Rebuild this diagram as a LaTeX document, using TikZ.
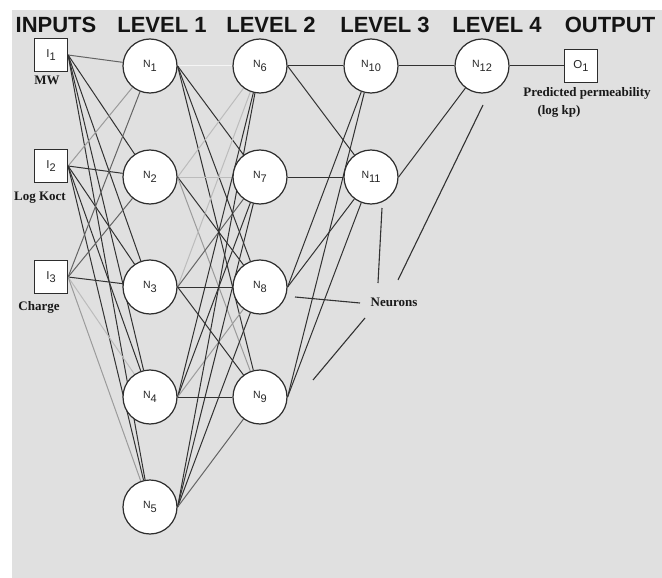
\documentclass[tikz,border=0pt]{standalone}
\usepackage{fontspec}
\setmainfont{Liberation Serif}
\setsansfont{Liberation Sans}
\pgfdeclarelayer{back}
\pgfdeclarelayer{wires}
\pgfsetlayers{back,wires,main}
\definecolor{bgGray}{RGB}{224,224,224}
\definecolor{wDark}{RGB}{50,50,50}
\definecolor{wMid}{RGB}{100,100,100}
\definecolor{wLight}{RGB}{155,155,155}
\definecolor{wPale}{RGB}{188,188,188}
\definecolor{wWhite}{RGB}{245,245,245}
\definecolor{edgeCol}{RGB}{45,45,45}
\newcommand{\nsub}[2]{#1\raisebox{-3.5pt}{\fontsize{11}{11}\selectfont #2}}
\tikzset{
  neuron/.style={circle, draw=edgeCol, line width=1.2pt, fill=white, minimum size=54pt, inner sep=0pt,
    font=\sffamily\fontsize{10.5}{10.5}\selectfont, text=black!85},
  iobox/.style={rectangle, draw=edgeCol, line width=1.2pt, fill=white, minimum width=33pt, minimum height=33pt,
    inner sep=0pt, font=\sffamily\fontsize{11.5}{11.5}\selectfont, text=black!85},
  header/.style={font=\sffamily\bfseries\fontsize{22}{22}\selectfont, anchor=base, inner sep=0pt, text=black!92},
  caption/.style={font=\rmfamily\bfseries\fontsize{13}{13}\selectfont, inner sep=0pt, text=black!90},
  wire/.style={line width=1.0pt},
  dk/.style={wire, draw=wDark},
  md/.style={wire, draw=wMid},
  lt/.style={wire, draw=wLight},
  pl/.style={wire, draw=wPale},
  wh/.style={wire, draw=wWhite},
  pointer/.style={line width=1.1pt, draw=wDark}
}
\begin{document}
\begin{tikzpicture}[x=1pt, y=-1pt]
\useasboundingbox (0,0) rectangle (662,578);
\begin{pgfonlayer}{back}
  \fill[white] (0,0) rectangle (662,578);
  \fill[bgGray] (12,10) rectangle (662,578);
\end{pgfonlayer}

% headers
\node[header] (hIn) at (56,33) {INPUTS};
\node[header] (hL1) at (162,33) {LEVEL 1};
\node[header] (hL2) at (271,33) {LEVEL 2};
\node[header] (hL3) at (385,33) {LEVEL 3};
\node[header] (hL4) at (497,33) {LEVEL 4};
\node[header] (hOut) at (610,33) {OUTPUT};

% inputs
\node[iobox] (I1) at (51,55) {\nsub{I}{1}};
\node[iobox] (I2) at (51,166) {\nsub{I}{2}};
\node[iobox] (I3) at (51,277) {\nsub{I}{3}};
\node[caption] (cMW) at (47,80) {MW};
\node[caption] (cLK) at (40,198) {Log Koct};
\node[caption] (cCh) at (39,307) {Charge};

% level 1
\node[neuron] (N1) at (150,66) {\nsub{N}{1}};
\node[neuron] (N2) at (150,177) {\nsub{N}{2}};
\node[neuron] (N3) at (150,287) {\nsub{N}{3}};
\node[neuron] (N4) at (150,397) {\nsub{N}{4}};
\node[neuron] (N5) at (150,507) {\nsub{N}{5}};
% level 2
\node[neuron] (N6) at (260,66) {\nsub{N}{6}};
\node[neuron] (N7) at (260,177) {\nsub{N}{7}};
\node[neuron] (N8) at (260,287) {\nsub{N}{8}};
\node[neuron] (N9) at (260,397) {\nsub{N}{9}};
% level 3
\node[neuron] (N10) at (371,66) {\nsub{N}{10}};
\node[neuron] (N11) at (371,177) {\nsub{N}{11}};
% level 4
\node[neuron] (N12) at (482,66) {\nsub{N}{12}};
% output
\node[iobox] (O1) at (581,66) {\nsub{O}{1}};
\node[caption] (cPred) at (587,93) {Predicted permeability};
\node[caption] (cLog) at (559,111) {(log kp)};
\node[caption] (cNeur) at (394,302) {Neurons};

\coordinate (p1a) at (295,297);
\coordinate (p1b) at (360,303);
\coordinate (p2a) at (382,208);
\coordinate (p2b) at (378,283);
\coordinate (p3a) at (483,105);
\coordinate (p3b) at (398,280);
\coordinate (p4a) at (365,318);
\coordinate (p4b) at (313,380);

\begin{pgfonlayer}{wires}
  \foreach \a/\b/\s in {
    I1/N1/md, I1/N2/dk, I1/N3/dk, I1/N4/dk, I1/N5/dk,
    I2/N1/lt, I2/N2/dk, I2/N3/dk, I2/N4/dk, I2/N5/dk,
    I3/N1/md, I3/N2/md, I3/N3/dk, I3/N4/pl, I3/N5/lt,
    N1/N6/wh, N1/N7/dk, N1/N8/dk, N1/N9/dk,
    N2/N6/pl, N2/N7/pl, N2/N8/dk, N2/N9/lt,
    N3/N6/pl, N3/N7/md, N3/N8/dk, N3/N9/dk,
    N4/N6/dk, N4/N7/dk, N4/N8/lt, N4/N9/dk,
    N5/N6/dk, N5/N7/dk, N5/N8/dk, N5/N9/md,
    N6/N10/dk, N6/N11/dk, N7/N11/dk,
    N8/N10/dk, N8/N11/dk, N9/N10/dk, N9/N11/dk,
    N10/N12/dk, N11/N12/dk, N12/O1/dk}
    \draw[\s] (\a.east) -- (\b);
  \draw[pointer] (p1a) -- (p1b);
  \draw[pointer] (p2a) -- (p2b);
  \draw[pointer] (p3a) -- (p3b);
  \draw[pointer] (p4a) -- (p4b);
\end{pgfonlayer}
\end{tikzpicture}
\end{document}
